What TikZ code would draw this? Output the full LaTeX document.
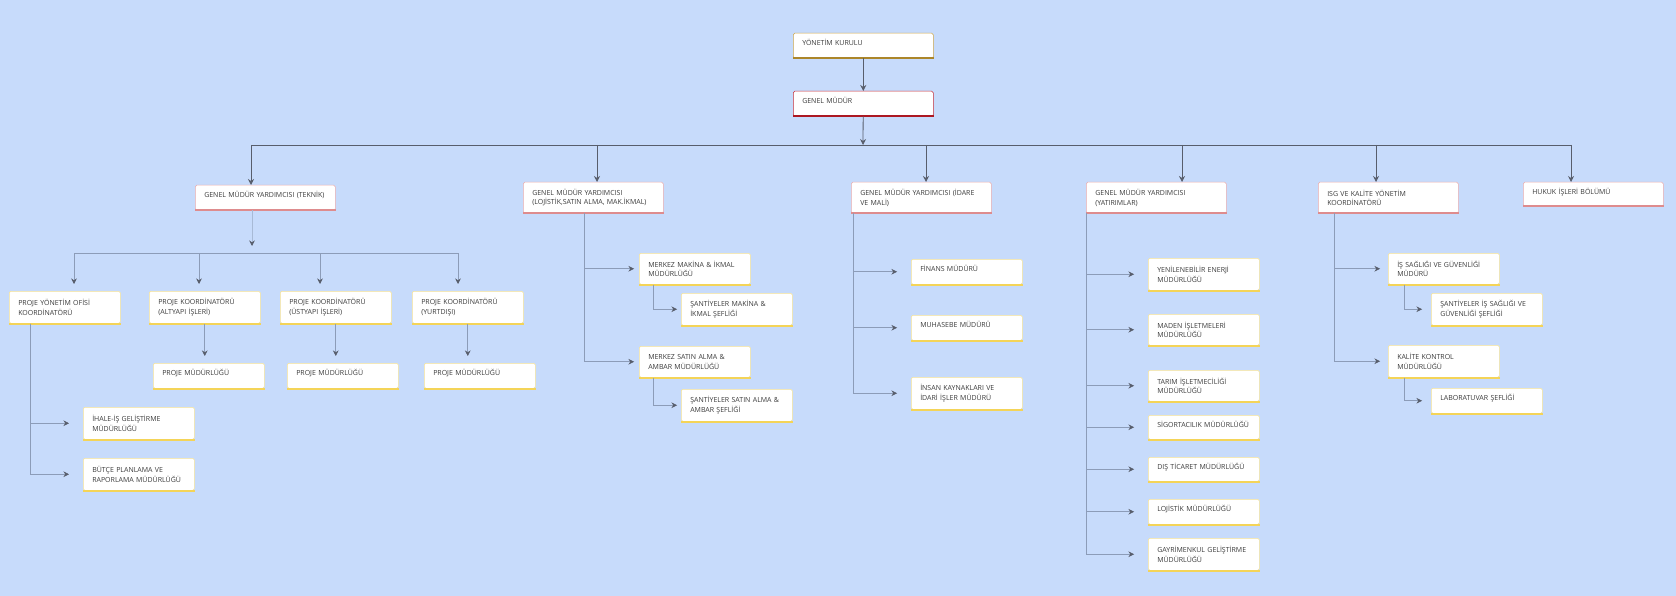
\documentclass[tikz,border=0pt]{standalone}
\usepackage{fontspec}
\setmainfont{Open Sans}
\usepackage{tikz}
\usetikzlibrary{positioning,arrows.meta}
\definecolor{bg}{RGB}{199,219,251}
\definecolor{txt}{RGB}{60,60,60}
\definecolor{linkc}{RGB}{88,94,108}
\definecolor{subc}{RGB}{140,156,184}
\definecolor{faintc}{RGB}{168,186,214}
\definecolor{ylw}{RGB}{244,212,88}
\definecolor{ylwline}{RGB}{248,228,150}
\definecolor{redbar}{RGB}{222,140,142}
\definecolor{redline}{RGB}{232,172,174}
\definecolor{ykbar}{RGB}{172,134,42}
\definecolor{ykline}{RGB}{204,166,76}
\definecolor{gmbar}{RGB}{172,24,34}
\definecolor{gmline}{RGB}{196,48,58}
\tikzset{
  box/.style = {draw, fill=white, rounded corners=1.5pt, anchor=north west,
                inner xsep=9pt, text width=93pt, align=left, line width=0.5pt,
                font=\fontsize{7}{9.5}\selectfont, text=txt},
  wide/.style = {text width=122pt},
  single/.style = {inner ysep=0pt, text height=12.5pt, text depth=#1},
  single/.default = 12.5pt,
  tall/.style = {minimum height=#1},
  stripe/.style = {append after command={(\tikzlastnode.south west)
                   edge[draw=#1, line width=2pt] (\tikzlastnode.south east)}},
  ybox/.style = {box, draw=ylwline, stripe=ylw},
  rbox/.style = {box, wide, draw=redline, stripe=redbar}
}

\begin{document}
\begin{tikzpicture}[x=1pt, y=-1pt,
    link/.style = {draw=linkc, line width=0.8pt, -{Stealth[length=6pt, width=6pt]}},
    busline/.style = {draw=linkc, line width=0.8pt},
    sub/.style = {draw=subc, line width=0.6pt, shorten >=7pt,
                  -{Stealth[length=5.5pt, width=5.5pt, color=linkc]}},
    subline/.style = {draw=subc, line width=0.6pt},
    faint/.style = {draw=faintc, line width=0.7pt, shorten >=7pt,
                    -{Stealth[length=5.5pt, width=5.5pt, color=linkc]}}]
    \fill[bg] (0,0) rectangle (1676,596);
    \useasboundingbox (0,0) rectangle (1676,596);

    % top
    \node[box, wide, single, draw=ykline, stripe=ykbar] (yk) at (793,33) {YÖNETİM KURULU};
    \node[box, wide, single, draw=gmline, stripe=gmbar] (gm) at (793,91) {GENEL MÜDÜR};

    % genel mudur yardimcilari
    \node[rbox, single] (tek) at (195,185) {GENEL MÜDÜR YARDIMCISI (TEKNİK)};
    \node[rbox, tall=31pt] (loj) at (523,182) {GENEL MÜDÜR YARDIMCISI\\(LOJİSTİK,SATIN ALMA, MAK.İKMAL)};
    \node[rbox, tall=31pt] (ida) at (851,182) {GENEL MÜDÜR YARDIMCISI (İDARE\\VE MALİ)};
    \node[rbox, tall=31pt] (yat) at (1086,182) {GENEL MÜDÜR YARDIMCISI\\(YATIRIMLAR)};
    \node[rbox, tall=31pt] (isg) at (1318,182) {ISG VE KALİTE YÖNETİM\\KOORDİNATÖRÜ};
    \node[rbox, single=11.5pt] (huk) at (1523,182) {HUKUK İŞLERİ BÖLÜMÜ};

    % teknik
    \node[ybox, tall=32pt] (pyo) at (9,291) {PROJE YÖNETİM OFİSİ\\KOORDİNATÖRÜ};
    \node[ybox, tall=32pt] (pka) at (149,291) {PROJE KOORDİNATÖRÜ\\(ALTYAPI İŞLERİ)};
    \node[ybox, tall=32pt] (pku) at (280,291) {PROJE KOORDİNATÖRÜ\\(ÜSTYAPI İŞLERİ)};
    \node[ybox, tall=32pt] (pky) at (412,291) {PROJE KOORDİNATÖRÜ\\(YURTDIŞI)};
    \node[ybox, single] (pma) at (153,363) {PROJE MÜDÜRLÜĞÜ};
    \node[ybox, single] (pmu) at (287,363) {PROJE MÜDÜRLÜĞÜ};
    \node[ybox, single] (pmy) at (424,363) {PROJE MÜDÜRLÜĞÜ};
    \node[ybox, tall=32pt] (ihl) at (83,407) {İHALE-İŞ GELİŞTİRME\\MÜDÜRLÜĞÜ};
    \node[ybox, tall=32pt] (bts) at (83,458) {BÜTÇE PLANLAMA VE\\RAPORLAMA MÜDÜRLÜĞÜ};

    % lojistik
    \node[ybox, tall=31pt] (mmk) at (639,253) {MERKEZ MAKİNA \& İKMAL\\MÜDÜRLÜĞÜ};
    \node[ybox, tall=32pt] (smk) at (681,293) {ŞANTİYELER MAKİNA \&\\İKMAL ŞEFLİĞİ};
    \node[ybox, tall=31pt] (msa) at (639,346) {MERKEZ SATIN ALMA \&\\AMBAR MÜDÜRLÜĞÜ};
    \node[ybox, tall=32pt] (ssa) at (681,389) {ŞANTİYELER SATIN ALMA \&\\AMBAR ŞEFLİĞİ};

    % idare
    \node[ybox, single] (fin) at (911,259) {FİNANS MÜDÜRÜ};
    \node[ybox, single] (muh) at (911,315) {MUHASEBE MÜDÜRÜ};
    \node[ybox, tall=32pt] (ikm) at (911,377) {İNSAN KAYNAKLARI VE\\İDARİ İŞLER MÜDÜRÜ};

    % yatirimlar
    \node[ybox, tall=32pt] (yen) at (1148,258) {YENİLENEBİLİR ENERJİ\\MÜDÜRLÜĞÜ};
    \node[ybox, tall=31pt] (mad) at (1148,314) {MADEN İŞLETMELERİ\\MÜDÜRLÜĞÜ};
    \node[ybox, tall=31pt] (tar) at (1148,370) {TARIM İŞLETMECİLİĞİ\\MÜDÜRLÜĞÜ};
    \node[ybox, single=11.5pt] (sig) at (1148,415) {SİGORTACILIK MÜDÜRLÜĞÜ};
    \node[ybox, single=11.5pt] (dis) at (1148,457) {DIŞ TİCARET MÜDÜRLÜĞÜ};
    \node[ybox, single] (ljm) at (1148,499) {LOJİSTİK MÜDÜRLÜĞÜ};
    \node[ybox, tall=32pt] (gay) at (1148,538) {GAYRİMENKUL GELİŞTİRME\\MÜDÜRLÜĞÜ};

    % isg
    \node[ybox, tall=31pt] (iss) at (1388,253) {İŞ SAĞLIĞI VE GÜVENLİĞİ\\MÜDÜRÜ};
    \node[ybox, tall=32pt] (sis) at (1431,293) {ŞANTİYELER İŞ SAĞLIĞI VE\\GÜVENLİĞİ ŞEFLİĞİ};
    \node[ybox, tall=32pt] (kal) at (1388,345) {KALİTE KONTROL\\MÜDÜRLÜĞÜ};
    \node[ybox, single] (lab) at (1431,388) {LABORATUVAR ŞEFLİĞİ};

    % main links
    \draw[link] (yk) -- (gm);
    \coordinate (bus) at (863,145);
    \draw[link] (gm) -- (bus);
    \coordinate (b1) at (251,145);
    \coordinate (b2) at (597,145);
    \coordinate (b3) at (926,145);
    \coordinate (b4) at (1182,145);
    \coordinate (b5) at (1376,145);
    \coordinate (b6) at (1571,145);
    \draw[busline] (b1) -- (b6);
    \foreach \b/\n in {b1/tek, b2/loj, b3/ida, b4/yat, b5/isg, b6/huk}
        \draw[link] (\b) -- (\b |- \n.north);

    % teknik links
    \coordinate (tbus) at (252,253);
    \draw[faint] (tek.south -| tbus) -- (tbus);
    \coordinate (t1) at (74,253);
    \coordinate (t2) at (199,253);
    \coordinate (t3) at (320,253);
    \coordinate (t4) at (458,253);
    \draw[subline] (t1) -- (t4);
    \foreach \t/\n in {t1/pyo, t2/pka, t3/pku, t4/pky}
        \draw[sub] (\t) -- (\t |- \n.north);
    \foreach \a/\n in {pka/pma, pku/pmu, pky/pmy}
        \draw[sub] (\a.south) -- (\a.south |- \n.north);
    \coordinate (pyx) at (30,0);
    \foreach \n in {ihl, bts}
        \draw[sub, shorten >=14pt] (pyo.south -| pyx) |- (\n);

    % lojistik links
    \coordinate (ljx) at (584,0);
    \coordinate (mkx) at (653,0);
    \foreach \n in {mmk, msa}
        \draw[sub, shorten >=5pt] (loj.south -| ljx) |- (\n);
    \draw[sub, shorten >=4pt] (mmk.south -| mkx) |- (smk);
    \draw[sub, shorten >=4pt] (msa.south -| mkx) |- (ssa);

    % idare links
    \coordinate (idx) at (853,0);
    \foreach \n in {fin, muh, ikm}
        \draw[sub, shorten >=14pt] (ida.south -| idx) |- (\n);

    % yatirimlar links
    \coordinate (ytx) at (1086,0);
    \foreach \n in {yen, mad, tar, sig, dis, ljm, gay}
        \draw[sub, shorten >=14pt] (yat.south -| ytx) |- (\n);

    % isg links
    \coordinate (igx) at (1334,0);
    \coordinate (isx) at (1404,0);
    \foreach \n in {iss, kal}
        \draw[sub, shorten >=8pt] (isg.south -| igx) |- (\n);
    \draw[sub, shorten >=9pt] (iss.south -| isx) |- (sis);
    \draw[sub, shorten >=9pt] (kal.south -| isx) |- (lab);
\end{tikzpicture}
\end{document}
